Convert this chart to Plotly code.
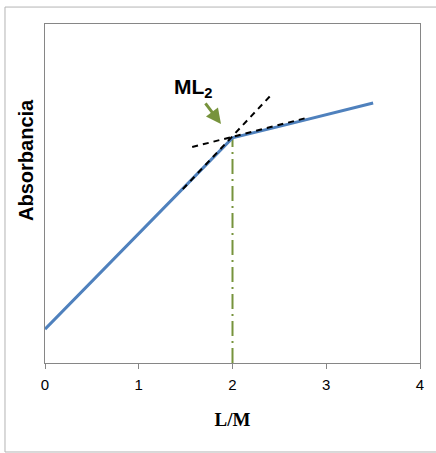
import plotly.graph_objects as go

# Data
lm = [0, 0.5, 1.0, 1.5, 2.0, 2.5, 3.0, 3.5]
absorb = [0.100, 0.241, 0.382, 0.523, 0.664, 0.698, 0.733, 0.767]

steep_x = [1.47, 2.43]
steep_y = [0.513, 0.796]
shallow_x = [1.57, 2.79]
shallow_y = [0.637, 0.723]

eq_x = [2.0, 2.0]
eq_y = [0.0, 0.664]

x_ticks = [0, 1, 2, 3, 4]

BLUE = "#4F81BD"
GREEN = "#77933C"
GRAY = "#868686"

fig = go.Figure()
fig.add_trace(go.Scatter(x=eq_x, y=eq_y, mode="lines",
                         line=dict(color=GREEN, width=2, dash="15px,5px,2px,5px"),
                         hoverinfo="skip"))
fig.add_trace(go.Scatter(x=lm, y=absorb, mode="lines",
                         line=dict(color=BLUE, width=3), hoverinfo="skip"))
fig.add_trace(go.Scatter(x=steep_x, y=steep_y, mode="lines",
                         line=dict(color="black", width=2, dash="6px,5px"),
                         hoverinfo="skip"))
fig.add_trace(go.Scatter(x=shallow_x, y=shallow_y, mode="lines",
                         line=dict(color="black", width=2, dash="6px,5px"),
                         hoverinfo="skip"))

# ML2 label with arrow pointing to the equivalence point
fig.add_annotation(x=1.877, y=0.705, xref="x", yref="y",
                   text="<b>ML<sub>2</sub></b>", showarrow=True,
                   ax=-27, ay=-36, arrowhead=2, arrowsize=1, arrowwidth=3,
                   arrowcolor=GREEN, standoff=0, startstandoff=1,
                   font=dict(family="Liberation Sans, Arial", size=21, color="black"))

fig.add_annotation(x=-0.0507, y=0.599, xref="paper", yref="paper",
                   xanchor="center", yanchor="middle",
                   text="<b>Absorbancia</b>", textangle=-90, showarrow=False,
                   font=dict(family="Liberation Sans, Arial", size=20, color="black"))

fig.add_shape(type="rect", xref="paper", yref="paper",
              x0=-0.1067, x1=1.06, y0=-0.2625, y1=1.050,
              line=dict(color="#b4b4b4", width=1), layer="below")

fig.update_layout(
    width=436, height=453,
    margin=dict(l=45, r=16, t=24, b=90),
    paper_bgcolor="white", plot_bgcolor="white",
    showlegend=False,
    xaxis=dict(range=[0, 4], tickvals=x_ticks, ticks="outside", ticklen=5,
               tickcolor=GRAY, showline=True, linecolor=GRAY, linewidth=1,
               mirror=True, showgrid=False, zeroline=False, ticklabelstandoff=3,
               tickfont=dict(family="Liberation Sans, Arial", size=15, color="black"),
               title=dict(text="<b>L/M</b>", standoff=20,
                          font=dict(family="Liberation Serif, Times New Roman", size=19, color="black"))),
    yaxis=dict(range=[0, 1], showticklabels=False, ticks="", showline=True,
               linecolor=GRAY, linewidth=1, mirror=True, showgrid=False, zeroline=False),
)

fig.write_html("out.html")
